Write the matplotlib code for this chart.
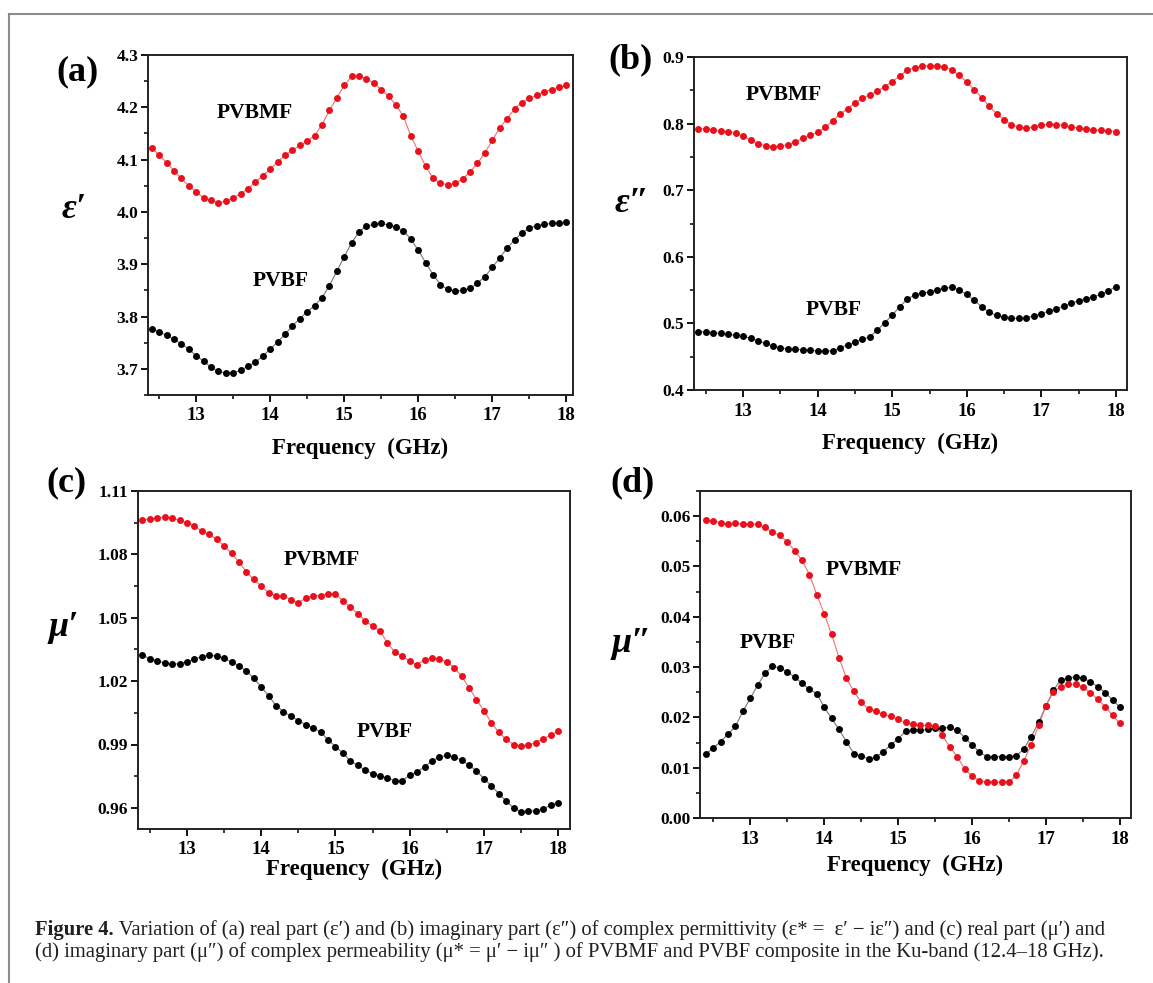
import numpy as np
import matplotlib
matplotlib.use('Agg')
import matplotlib.pyplot as plt
from matplotlib.ticker import MultipleLocator, FormatStrFormatter
from matplotlib.lines import Line2D

W, H = 1153, 983

freq = [12.4, 12.5, 12.6, 12.7, 12.8, 12.9, 13.0, 13.1, 13.2, 13.3,
        13.4, 13.5, 13.6, 13.7, 13.8, 13.9, 14.0, 14.1, 14.2, 14.3,
        14.4, 14.5, 14.6, 14.7, 14.8, 14.9, 15.0, 15.1, 15.2, 15.3,
        15.4, 15.5, 15.6, 15.7, 15.8, 15.9, 16.0, 16.1, 16.2, 16.3,
        16.4, 16.5, 16.6, 16.7, 16.8, 16.9, 17.0, 17.1, 17.2, 17.3,
        17.4, 17.5, 17.6, 17.7, 17.8, 17.9, 18.0]

eps_re_pvbmf = [4.122, 4.109, 4.094, 4.079, 4.064, 4.050, 4.038, 4.027, 4.022, 4.018,
                4.020, 4.027, 4.035, 4.044, 4.057, 4.069, 4.082, 4.095, 4.109, 4.118,
                4.127, 4.135, 4.146, 4.167, 4.194, 4.218, 4.242, 4.259, 4.260, 4.254,
                4.246, 4.234, 4.221, 4.204, 4.183, 4.145, 4.116, 4.087, 4.064, 4.055,
                4.052, 4.055, 4.063, 4.077, 4.093, 4.113, 4.137, 4.161, 4.178, 4.197,
                4.209, 4.217, 4.223, 4.230, 4.234, 4.238, 4.242]
eps_re_pvbf = [3.777, 3.771, 3.764, 3.757, 3.748, 3.738, 3.725, 3.715, 3.703, 3.695,
               3.692, 3.692, 3.697, 3.705, 3.713, 3.724, 3.738, 3.751, 3.766, 3.782,
               3.796, 3.809, 3.821, 3.836, 3.859, 3.887, 3.914, 3.941, 3.962, 3.973,
               3.976, 3.978, 3.975, 3.971, 3.964, 3.948, 3.927, 3.903, 3.880, 3.861,
               3.852, 3.848, 3.850, 3.854, 3.864, 3.876, 3.894, 3.912, 3.931, 3.946,
               3.960, 3.969, 3.974, 3.976, 3.978, 3.979, 3.980]

eps_im_pvbmf = [0.7925, 0.792, 0.7905, 0.789, 0.788, 0.7855, 0.781, 0.775, 0.770, 0.7665,
                0.7655, 0.7665, 0.7685, 0.7725, 0.778, 0.7825, 0.787, 0.7945, 0.804, 0.814,
                0.8225, 0.831, 0.838, 0.8435, 0.849, 0.8555, 0.863, 0.8715, 0.880, 0.884,
                0.886, 0.887, 0.887, 0.885, 0.881, 0.8725, 0.8625, 0.851, 0.839, 0.826,
                0.815, 0.806, 0.7985, 0.7945, 0.793, 0.795, 0.7975, 0.799, 0.7985, 0.7975,
                0.7955, 0.7935, 0.792, 0.7905, 0.790, 0.7895, 0.788]
eps_im_pvbf = [0.4875, 0.487, 0.486, 0.485, 0.4835, 0.482, 0.4805, 0.4775, 0.474, 0.470,
               0.466, 0.463, 0.462, 0.461, 0.4605, 0.4595, 0.459, 0.458, 0.459, 0.463,
               0.468, 0.4715, 0.476, 0.480, 0.490, 0.501, 0.5125, 0.525, 0.5365, 0.5425,
               0.545, 0.5475, 0.550, 0.553, 0.554, 0.550, 0.5435, 0.5345, 0.525, 0.5165,
               0.512, 0.5095, 0.508, 0.5075, 0.508, 0.5115, 0.5145, 0.5185, 0.522, 0.526,
               0.530, 0.534, 0.537, 0.540, 0.5435, 0.549, 0.555]

mu_re_pvbmf = [1.0964, 1.0968, 1.0972, 1.0977, 1.0972, 1.0961, 1.0950, 1.0934, 1.0909, 1.0895,
               1.0871, 1.0840, 1.0805, 1.0764, 1.0717, 1.0682, 1.0649, 1.0617, 1.0605, 1.0603,
               1.0586, 1.0570, 1.0594, 1.0605, 1.0605, 1.0613, 1.0613, 1.0580, 1.0550, 1.0520,
               1.0485, 1.0461, 1.0437, 1.0381, 1.0337, 1.0319, 1.0294, 1.0277, 1.0302, 1.0310,
               1.0305, 1.0291, 1.0264, 1.0223, 1.0169, 1.0113, 1.0060, 1.0003, 0.9958, 0.9924,
               0.9900, 0.9893, 0.9897, 0.9909, 0.9928, 0.9944, 0.9965]
mu_re_pvbf = [1.0322, 1.0307, 1.0296, 1.0286, 1.0280, 1.0283, 1.0292, 1.0304, 1.0316, 1.0322,
              1.0319, 1.0308, 1.0291, 1.0273, 1.0247, 1.0214, 1.0173, 1.0130, 1.0084, 1.0056,
              1.0034, 1.0013, 0.9994, 0.9979, 0.9958, 0.9923, 0.9890, 0.9860, 0.9822, 0.9802,
              0.9778, 0.9762, 0.9750, 0.9742, 0.9728, 0.9728, 0.9755, 0.9769, 0.9794, 0.9822,
              0.9841, 0.9848, 0.9841, 0.9826, 0.9802, 0.9775, 0.9739, 0.9704, 0.9668, 0.9632,
              0.9600, 0.9581, 0.9583, 0.9587, 0.9595, 0.9613, 0.9625]

mu_im_pvbmf = [0.0592, 0.0590, 0.0587, 0.0584, 0.0586, 0.0584, 0.0584, 0.0584, 0.0578, 0.0568,
               0.0562, 0.0549, 0.0531, 0.0512, 0.0484, 0.0444, 0.0406, 0.0365, 0.0319, 0.0278,
               0.0252, 0.0230, 0.0217, 0.0212, 0.0206, 0.0202, 0.0196, 0.0190, 0.0186, 0.0184,
               0.0184, 0.0182, 0.0164, 0.0141, 0.0122, 0.0097, 0.0083, 0.0074, 0.0071, 0.0071,
               0.0071, 0.0071, 0.0085, 0.0114, 0.0145, 0.0184, 0.0223, 0.0251, 0.0261, 0.0266,
               0.0266, 0.0260, 0.0249, 0.0236, 0.0221, 0.0204, 0.0188]
mu_im_pvbf = [0.0127, 0.0139, 0.0152, 0.0167, 0.0182, 0.0212, 0.0238, 0.0264, 0.0288, 0.0302,
              0.0298, 0.0291, 0.0280, 0.0268, 0.0256, 0.0247, 0.0220, 0.0198, 0.0176, 0.0152,
              0.0128, 0.0124, 0.0117, 0.0121, 0.0132, 0.0145, 0.0158, 0.0172, 0.0174, 0.0174,
              0.0176, 0.0178, 0.0179, 0.0180, 0.0174, 0.0160, 0.0145, 0.0131, 0.0122, 0.0122,
              0.0122, 0.0122, 0.0124, 0.0137, 0.0162, 0.0190, 0.0223, 0.0254, 0.0274, 0.0278,
              0.0281, 0.0278, 0.0271, 0.0261, 0.0249, 0.0235, 0.0220]

panel_tags = ['(a)', '(b)', '(c)', '(d)']
ylabels = ['\u03b5\u2032', '\u03b5\u2033', '\u03bc\u2032', '\u03bc\u2033']

RED = '#e8101c'
SERIF = ['Liberation Serif', 'DejaVu Serif']

plt.rcParams['font.family'] = SERIF
plt.rcParams['font.weight'] = 'bold'
plt.rcParams['axes.linewidth'] = 1.4
plt.rcParams['xtick.direction'] = 'out'
plt.rcParams['ytick.direction'] = 'out'


def px_rect(l, t, r, b):
    return [l / W, 1 - b / H, (r - l) / W, (b - t) / H]


def fig_xy(x, y):
    return x / W, 1 - y / H


fig = plt.figure(figsize=(W / 100, H / 100), dpi=100)

# panel settings: rect in pixels, limits, y tick steps, label spots
panels = [
    dict(rect=(148, 55, 573, 395), xlim=(12.35, 18.09), ylim=(3.65, 4.3),
         ymaj=0.1, ymin=0.05, fmt='%.1f',
         red=eps_re_pvbmf, blk=eps_re_pvbf,
         lab_red=(13.79, 4.189), lab_blk=(14.14, 3.867),
         tag=(78, 72), ylab=(74, 210), xlab_y=448),
    dict(rect=(694, 57, 1127, 390), xlim=(12.34, 18.15), ylim=(0.4, 0.9),
         ymaj=0.1, ymin=0.05, fmt='%.1f',
         red=eps_im_pvbmf, blk=eps_im_pvbf,
         lab_red=(13.54, 0.8425), lab_blk=(14.22, 0.52),
         tag=(630, 60), ylab=(632, 203), xlab_y=443),
    dict(rect=(138, 491, 570, 829), xlim=(12.34, 18.16), ylim=(0.95, 1.11),
         ymaj=0.03, ymin=0.015, fmt='%.2f',
         red=mu_re_pvbmf, blk=mu_re_pvbf,
         lab_red=(14.82, 1.0775), lab_blk=(15.66, 0.9959),
         tag=(66, 483), ylab=(64, 627), xlab_y=869),
    dict(rect=(700, 491, 1131, 818), xlim=(12.32, 18.15), ylim=(0.0, 0.065),
         ymaj=0.01, ymin=0.005, fmt='%.2f',
         red=mu_im_pvbmf, blk=mu_im_pvbf,
         lab_red=(14.54, 0.0492), lab_blk=(13.23, 0.0347),
         tag=(632, 483), ylab=(632, 643), xlab_y=865),
]

for i, p in enumerate(panels):
    ax = fig.add_axes(px_rect(*p['rect']))
    ax.plot(freq, p['blk'], '-', color='#777777', lw=0.8, zorder=2)
    ax.plot(freq, p['blk'], 'o', color='black', ms=5, mec='none', zorder=3)
    ax.plot(freq, p['red'], '-', color='#f07070', lw=0.8, zorder=2)
    ax.plot(freq, p['red'], 'o', color=RED, ms=5, mec='none', zorder=3)

    ax.set_xlim(*p['xlim'])
    ax.set_ylim(*p['ylim'])
    ax.xaxis.set_major_locator(MultipleLocator(1))
    ax.xaxis.set_minor_locator(MultipleLocator(0.5))
    ax.yaxis.set_major_locator(MultipleLocator(p['ymaj']))
    ax.yaxis.set_minor_locator(MultipleLocator(p['ymin']))
    ax.yaxis.set_major_formatter(FormatStrFormatter(p['fmt']))
    ax.xaxis.set_major_formatter(FormatStrFormatter('%d'))
    ax.tick_params(which='major', length=5, width=1.3, labelsize=13.5, pad=4)
    ax.tick_params(axis='y', which='major', labelsize=12.5, pad=2)
    ax.tick_params(which='minor', length=3, width=1.1)
    ax.tick_params(top=False, right=False, which='both')
    for s in ax.spines.values():
        s.set_color('#222222')

    ax.text(*p['lab_red'], 'PVBMF', ha='center', va='center',
            fontsize=15.5, fontweight='bold')
    ax.text(*p['lab_blk'], 'PVBF', ha='center', va='center',
            fontsize=15.5, fontweight='bold')

    l, t, r, b = p['rect']
    fig.text(*fig_xy((l + r) / 2, p['xlab_y']), 'Frequency  (GHz)',
             ha='center', va='center', fontsize=16.5, fontweight='bold')
    fig.text(*fig_xy(*p['tag']), panel_tags[i], ha='center', va='center',
             fontsize=26, fontweight='bold')
    fig.text(*fig_xy(*p['ylab']), ylabels[i], ha='center', va='center',
             fontsize=26, fontweight='bold', fontstyle='italic')

# page frame lines
fig.add_artist(Line2D([9 / W, 1.0], [1 - 14 / H, 1 - 14 / H],
                      transform=fig.transFigure, color='#8c8c8c', lw=1.5))
fig.add_artist(Line2D([9 / W, 9 / W], [0.0, 1 - 14 / H],
                      transform=fig.transFigure, color='#8c8c8c', lw=1.5))

# caption
cap_bold = 'Figure 4.'
cap_line1 = (' Variation of (a) real part (\u03b5\u2032) and (b) imaginary part (\u03b5\u2033) '
             'of complex permittivity (\u03b5* =  \u03b5\u2032 \u2212 i\u03b5\u2033) and (c) real part '
             '(\u03bc\u2032) and')
cap_line2 = ('(d) imaginary part (\u03bc\u2033) of complex permeability (\u03bc* = \u03bc\u2032 \u2212 i\u03bc\u2033 ) '
             'of PVBMF and PVBF composite in the Ku-band (12.4\u201318 GHz).')

CAP_FS = 14.9
fig.canvas.draw()
renderer = fig.canvas.get_renderer()
tb = fig.text(*fig_xy(35, 930), cap_bold, ha='left', va='center',
              fontsize=CAP_FS, fontweight='bold', color='#231f20')
bb = tb.get_window_extent(renderer=renderer)
fig.text(bb.x1 / W, 1 - 930 / H, cap_line1, ha='left', va='center',
         fontsize=CAP_FS, fontweight='normal', color='#231f20')
fig.text(*fig_xy(35, 952), cap_line2, ha='left', va='center',
         fontsize=CAP_FS, fontweight='normal', color='#231f20')

fig.savefig('out.png', dpi=100)
